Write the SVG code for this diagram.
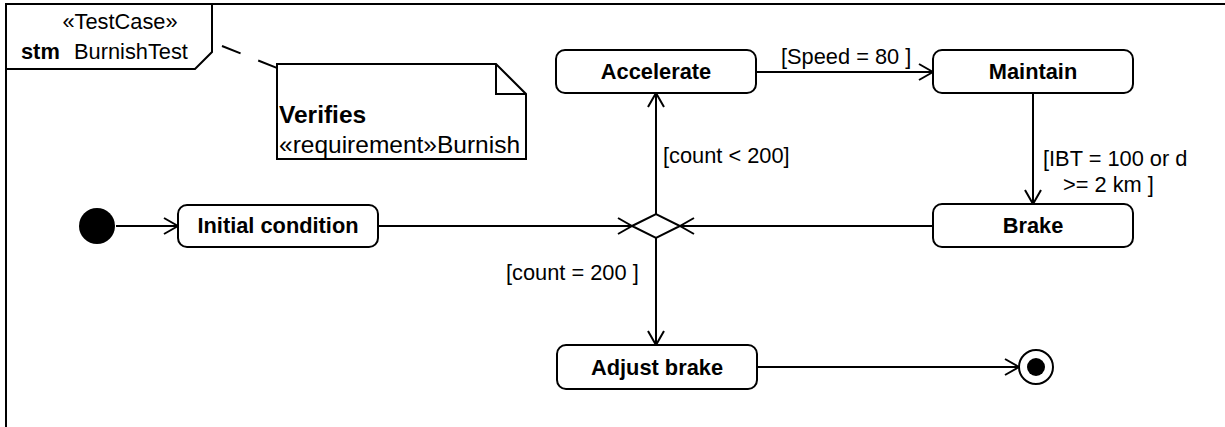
<svg xmlns="http://www.w3.org/2000/svg" width="1225" height="427" viewBox="0 0 1225 427">
<style>
text{font-family:"Liberation Sans",Arial,sans-serif;font-size:21.8px;fill:#000}
.b{font-weight:bold}
.node{fill:#fff;stroke:#000;stroke-width:2}
.c{fill:none;stroke:#000;stroke-width:2}
.n{font-size:24.5px}
</style>
<defs>
<marker id="arr" markerUnits="userSpaceOnUse" markerWidth="16" markerHeight="18" refX="14" refY="8" orient="auto" viewBox="-1 -1 16 18">
<path d="M0,0 L14,8 L0,16" fill="none" stroke="#000" stroke-width="2"/>
</marker>
</defs>
<rect width="1225" height="427" fill="#fff"/>
<g id="frame">
<path d="M6,440 L6,4 L1240,4" class="c"/>
<path d="M6,69 L195,69 L212,52 L212,4" class="c"/>
<text x="120" y="29" text-anchor="middle">«TestCase»</text>
<text x="21" y="59" class="b">stm</text>
<text x="74" y="59">BurnishTest</text>
</g>
<g id="note">
<line x1="222" y1="46" x2="277" y2="68" class="c" stroke-dasharray="20 19"/>
<path d="M277,64 L496,64 L526,94 L526,159 L277,159 Z" class="node"/>
<path d="M496,64 L496,94 L526,94" class="c"/>
<text x="279" y="123" class="b n">Verifies</text>
<text x="279" y="153" class="n">«requirement»Burnish</text>
</g>
<g id="connectors">
<line x1="116" y1="226" x2="178" y2="226" class="c" marker-end="url(#arr)"/>
<line x1="378" y1="226" x2="632" y2="226" class="c" marker-end="url(#arr)"/>
<line x1="933" y1="226" x2="680" y2="226" class="c" marker-end="url(#arr)"/>
<line x1="656" y1="214" x2="656" y2="93" class="c" marker-end="url(#arr)"/>
<text x="663" y="163">[count &lt; 200]</text>
<line x1="756" y1="72" x2="933" y2="72" class="c" marker-end="url(#arr)"/>
<text x="781" y="64">[Speed = 80 ]</text>
<line x1="1033" y1="93" x2="1033" y2="204" class="c" marker-end="url(#arr)"/>
<text x="1043" y="166">[IBT = 100 or d</text>
<text x="1063" y="192">&gt;= 2 km ]</text>
<line x1="656" y1="238" x2="656" y2="345" class="c" marker-end="url(#arr)"/>
<text x="506" y="280">[count = 200 ]</text>
<line x1="757" y1="367" x2="1019" y2="367" class="c" marker-end="url(#arr)"/>
</g>
<g id="initial"><circle cx="97" cy="226" r="18" fill="#000"/></g>
<g id="initial-condition">
<rect x="178" y="205" width="200" height="42" rx="9" class="node"/>
<text x="278" y="233" text-anchor="middle" class="b">Initial condition</text>
</g>
<g id="accelerate">
<rect x="556" y="50" width="200" height="43" rx="9" class="node"/>
<text x="656" y="79" text-anchor="middle" class="b">Accelerate</text>
</g>
<g id="maintain">
<rect x="933" y="50" width="200" height="43" rx="9" class="node"/>
<text x="1033" y="79" text-anchor="middle" class="b">Maintain</text>
</g>
<g id="brake">
<rect x="933" y="204" width="200" height="43" rx="9" class="node"/>
<text x="1033" y="233" text-anchor="middle" class="b">Brake</text>
</g>
<g id="decision">
<path d="M632,226 L656,214 L680,226 L656,238 Z" class="node"/>
</g>
<g id="adjust-brake">
<rect x="557" y="345" width="200" height="44" rx="9" class="node"/>
<text x="657" y="375" text-anchor="middle" class="b">Adjust brake</text>
</g>
<g id="final">
<circle cx="1036" cy="367" r="17" class="node"/>
<circle cx="1036" cy="367" r="9" fill="#000"/>
</g>
</svg>
